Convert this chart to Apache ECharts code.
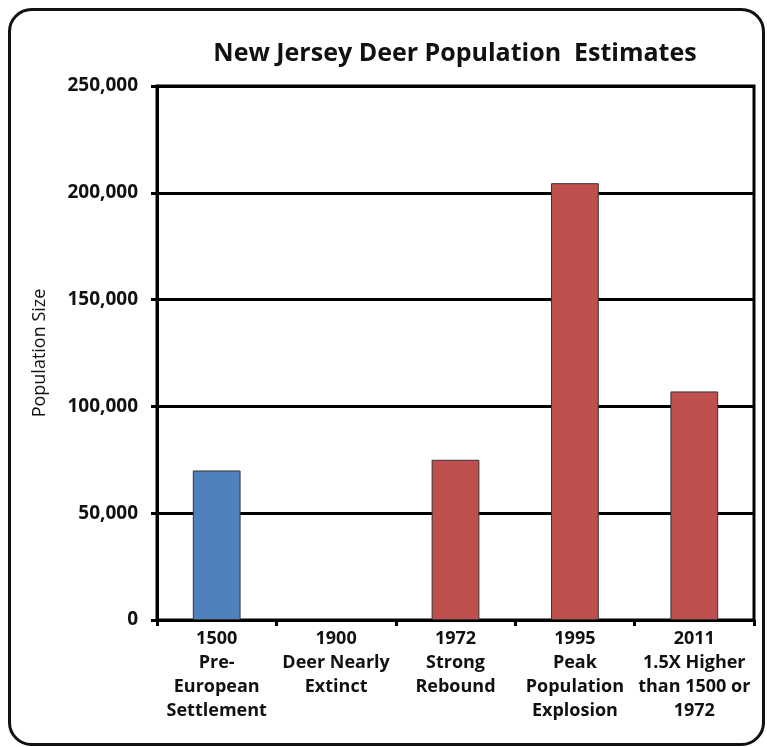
<!DOCTYPE html>
<html>
<head>
<meta charset="utf-8">
<script src="https://cdn.jsdelivr.net/npm/echarts@6/dist/echarts.min.js"></script>
<style>
html,body{margin:0;padding:0;background:#fff;}
#c{width:767px;height:747px;}
</style>
</head>
<body>
<div id="c"></div>
<script>
const categories = [
  "1500\nPre-\nEuropean\nSettlement",
  "1900\nDeer Nearly\nExtinct",
  "1972\nStrong\nRebound",
  "1995\nPeak\nPopulation\nExplosion",
  "2011\n1.5X Higher\nthan 1500 or\n1972"
];
const population = [70000, 0, 75000, 204500, 107000];
const yTicks = { min: 0, max: 250000, interval: 50000 };

const chart = echarts.init(document.getElementById('c'), null, {renderer: 'canvas'});
const font = "'Open Sans', 'Noto Sans', sans-serif";
chart.setOption({
  animation: false,
  backgroundColor: '#fff',
  title: {
    text: 'New Jersey Deer Population  Estimates',
    left: 450, top: 36, textAlign: 'center',
    textStyle: {fontFamily: font, fontSize: 25, fontWeight: 'bold', color: '#111'}
  },
  graphic: [{
    type: 'rect', left: 8, top: 8, z: -1,
    shape: {width: 754, height: 735, r: 22},
    style: {fill: '#fff', stroke: '#111', lineWidth: 3}
  }],
  grid: {left: 157, right: 13, top: 86, bottom: 127, show: true, borderColor: '#000', borderWidth: 3, backgroundColor: 'transparent'},
  xAxis: {
    type: 'category',
    data: categories,
    axisLine: {lineStyle: {color: '#000', width: 3}},
    axisTick: {show: true, length: 6, lineStyle: {color: '#000', width: 3}},
    axisLabel: {fontFamily: font, fontSize: 18, fontWeight: 'bold', color: '#111', lineHeight: 24, margin: 7, interval: 0}
  },
  yAxis: {
    type: 'value',
    min: yTicks.min, max: yTicks.max, interval: yTicks.interval,
    name: 'Population Size', nameLocation: 'middle', nameGap: 108,
    nameTextStyle: {fontFamily: font, fontSize: 18, color: '#111'},
    axisLine: {show: true, lineStyle: {color: '#000', width: 3}},
    axisTick: {show: true, length: 6, lineStyle: {color: '#000', width: 3}},
    splitLine: {lineStyle: {color: '#000', width: 3}},
    axisLabel: {fontFamily: font, fontSize: 19, fontWeight: 'bold', color: '#111', margin: 19,
      formatter: v => v.toLocaleString('en-US')}
  },
  series: [{
    type: 'bar',
    data: population.map(v => ({value: v, itemStyle: {borderWidth: v > 0 ? 1 : 0}})),
    barWidth: '40%',
    z: 3,
    itemStyle: {
      color: p => p.dataIndex === 0 ? '#4F81BD' : '#C0504D',
      borderColor: '#333', borderWidth: 1
    }
  }]
});
</script>
</body>
</html>
